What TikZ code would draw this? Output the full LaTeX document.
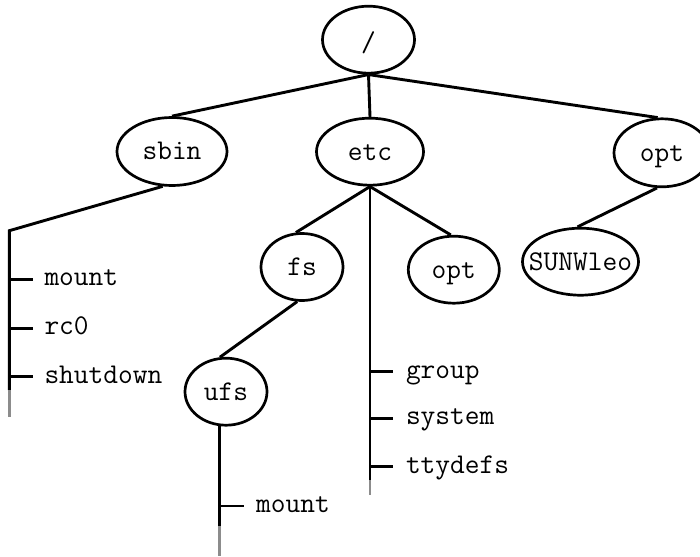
\documentclass[tikz,border=0pt]{standalone}
\usepackage{fontspec}
\usetikzlibrary{shapes.geometric}
\definecolor{tailgray}{gray}{0.55}
\tikzset{
  dirnode/.style={ellipse, draw, line width=2.7pt, inner sep=0pt,
    font=\ttfamily\fontsize{28.6}{30}\selectfont, text height=17pt, text depth=0pt},
  conn/.style={line width=2.9pt},
  tailline/.style={line width=2.9pt, draw=tailgray},
  tickline/.style={line width=2.9pt},
  leaf/.style={anchor=base west, inner sep=0pt, font=\ttfamily\fontsize{28.6}{30}\selectfont}
}
\begin{document}
\begin{tikzpicture}[x=1pt,y=-1pt]
\useasboundingbox (0,0) rectangle (700,556);
\clip (0,0) rectangle (700,556);
% directory nodes
\node[dirnode, minimum width=92pt, minimum height=67pt] (root) at (368.5,39.7) {\makebox[0pt]{\raisebox{-3pt}{/}}};
\node[dirnode, minimum width=110pt, minimum height=68pt] (sbin) at (172,151.5) {\makebox[0pt]{sbin}};
\node[dirnode, minimum width=107pt, minimum height=67pt] (etc) at (370,151.7) {\makebox[0pt]{etc}};
\node[dirnode, minimum width=96pt, minimum height=68pt] (optR) at (662,152.8) {\makebox[0pt]{opt}};
\node[dirnode, minimum width=82pt, minimum height=67pt] (fs) at (302,267) {\makebox[0pt]{fs}};
\node[dirnode, minimum width=91pt, minimum height=67pt] (optC) at (453.8,269.7) {\makebox[0pt]{opt}};
\node[dirnode, minimum width=116pt, minimum height=67pt] (sunw) at (580.5,261.7) {\makebox[0pt]{SUNWleo}};
\node[dirnode, minimum width=82pt, minimum height=67pt] (ufs) at (226,391.7) {\makebox[0pt]{ufs}};
% tree connectors
\draw[conn] (root.south) -- (sbin.north);
\draw[conn] (root.south) -- (etc.north);
\draw[conn] (root.south) -- (optR.97);
\draw[conn] (etc.south) -- (fs.100);
\draw[conn] (etc.south) -- (optC.95);
\draw[conn] (fs.-98) -- (ufs.100);
\draw[conn] (optR.-98) -- (sunw.95);
% sbin file list
\coordinate (sbK) at (9.3,230.7);
\coordinate (sbE) at (9.3,390);
\coordinate (sbG) at (9.3,416.7);
\draw[conn] (sbin.-105) -- (sbK) -- (sbE);
\draw[tailline] (sbE) -- (sbG);
\coordinate (s1) at (9.3,279.3);
\coordinate (s2) at (9.3,328.3);
\coordinate (s3) at (9.3,376.7);
\draw[tickline] (s1) -- ++(24,0);
\draw[tickline] (s2) -- ++(24,0);
\draw[tickline] (s3) -- ++(24,0);
\node[leaf] (sm) at (44.3,285.8) {mount};
\node[leaf] (sr) at (44.3,334.8) {rc0};
\node[leaf] (ss) at (44.3,383.2) {shutdown};
% etc file list
\coordinate (etE) at (370,480);
\coordinate (etG) at (370,495);
\draw[conn] (etc.south) -- (etE);
\draw[tailline] (etE) -- (etG);
\coordinate (e1) at (370,371.7);
\coordinate (e2) at (370,418.3);
\coordinate (e3) at (370,466.7);
\draw[tickline] (e1) -- ++(23.3,0);
\draw[tickline] (e2) -- ++(23.3,0);
\draw[tickline] (e3) -- ++(23.3,0);
\node[leaf] (eg) at (405.8,378.2) {group};
\node[leaf] (es) at (405.8,424.8) {system};
\node[leaf] (et) at (405.8,473.2) {ttydefs};
% ufs file list
\draw[conn] (ufs.-100) -- ++(0,100) coordinate (ufE);
\draw[tailline] (ufE) -- ++(0,30) coordinate (ufG);
\coordinate (u1) at (220.9,506);
\draw[tickline] (u1) -- ++(23,0);
\node[leaf] (um) at (256,512.5) {mount};
\end{tikzpicture}
\end{document}
